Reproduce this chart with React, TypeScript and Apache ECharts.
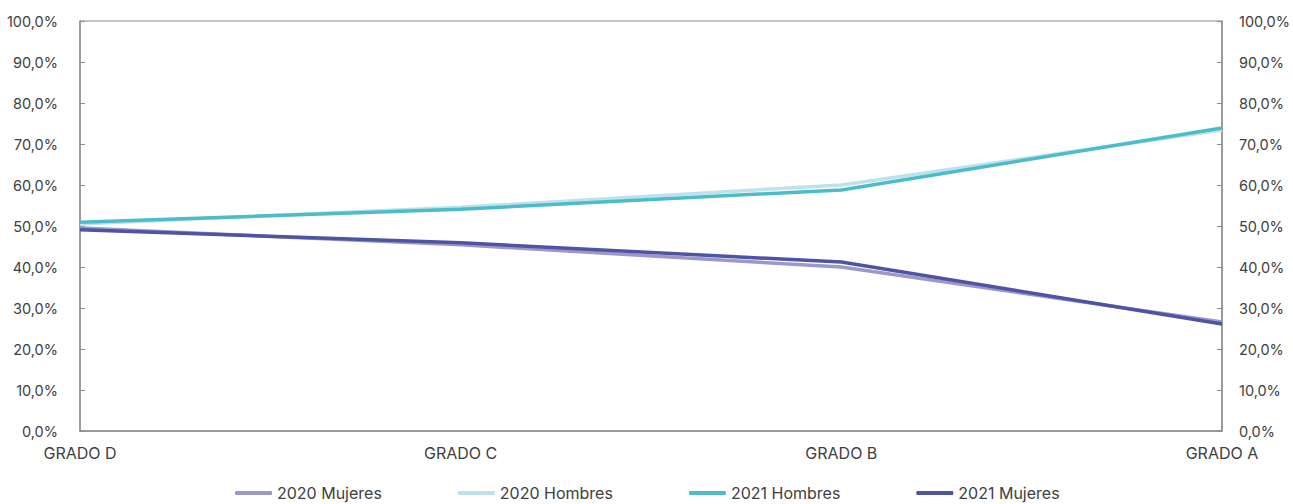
import React, { useEffect, useRef } from "react";
import * as echarts from "echarts";

const categories = ["GRADO D", "GRADO C", "GRADO B", "GRADO A"];
const mujeres2020 = [49.5, 45.4, 40.0, 26.6];
const hombres2020 = [50.5, 54.6, 60.0, 73.4];
const hombres2021 = [50.9, 54.1, 58.8, 73.9];
const mujeres2021 = [49.1, 45.9, 41.2, 26.1];

const seriesNames = ["2020 Mujeres", "2020 Hombres", "2021 Hombres", "2021 Mujeres"];
const seriesColors = ["#9b98cc", "#bfe2ea", "#4bbccc", "#4f53a4"];

export default function App() {
  const ref = useRef<HTMLDivElement>(null);
  useEffect(() => {
    document.body.style.margin = "0";
    if (!ref.current) return;
    const chart = echarts.init(ref.current, null, { renderer: "svg" });
    const fmt = (v: number) => v.toFixed(1).replace(".", ",") + "%";
    const textStyle = { color: "#404040", fontSize: 14.5, fontFamily: "Inter" };
    const yAxisBase = {
      type: "value" as const,
      min: 0,
      max: 100,
      interval: 10,
      axisLine: { show: true, lineStyle: { color: "#8c8c8c", width: 1.5 } },
      axisTick: { show: true, inside: true, length: 5, lineStyle: { color: "#8c8c8c" } },
      splitLine: { show: false },
      axisLabel: { ...textStyle, formatter: fmt },
    };
    const data = [mujeres2020, hombres2020, hombres2021, mujeres2021];
    chart.setOption({
      animation: false,
      grid: {
        left: 80,
        right: 66,
        top: 21,
        bottom: 73,
        show: true,
        borderColor: "#8c8c8c",
        borderWidth: 1,
        containLabel: false,
      },
      legend: {
        top: 480,
        left: 230,
        itemGap: 76,
        itemWidth: 37,
        itemHeight: 4,
        icon: "roundRect",
        textStyle: { ...textStyle, fontSize: 16 },
        data: seriesNames,
      },
      xAxis: {
        type: "category",
        data: categories,
        boundaryGap: false,
        axisLine: { lineStyle: { color: "#8c8c8c", width: 1.5 } },
        axisTick: { show: false },
        axisLabel: { ...textStyle, fontSize: 16, margin: 14 },
      },
      yAxis: [
        { ...yAxisBase, position: "left", axisLabel: { ...yAxisBase.axisLabel, margin: 22 } },
        { ...yAxisBase, position: "right", axisLabel: { ...yAxisBase.axisLabel, margin: 17 } },
      ],
      series: seriesNames.map((name, i) => ({
        name,
        type: "line",
        data: data[i],
        symbol: "none",
        lineStyle: { color: seriesColors[i], width: 3.5 },
        itemStyle: { color: seriesColors[i] },
      })),
    });
    return () => chart.dispose();
  }, []);
  return <div ref={ref} style={{ width: 1293, height: 504 }} />;
}
